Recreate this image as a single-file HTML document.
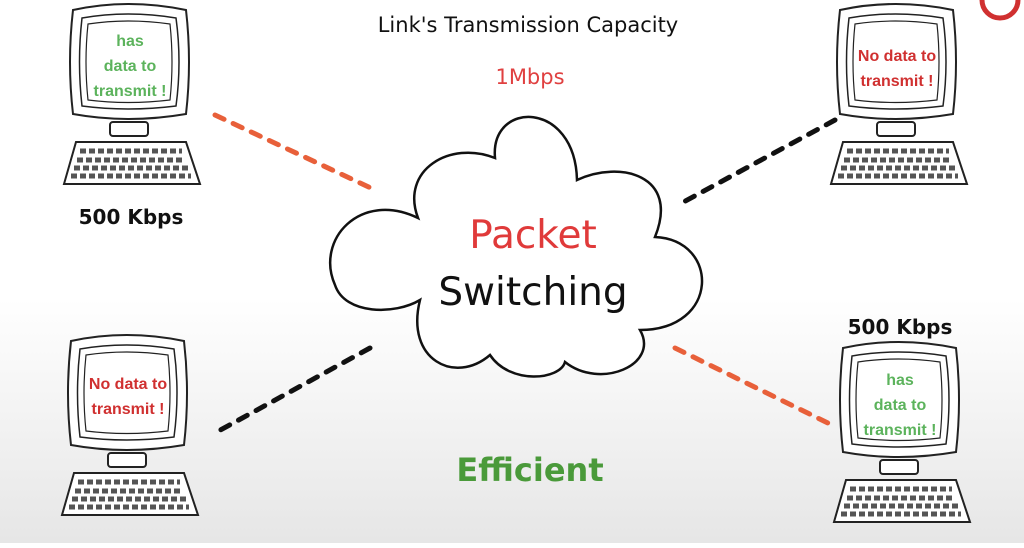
<!DOCTYPE html>
<html><head><meta charset="utf-8"><style>
body{margin:0;width:1024px;height:543px;overflow:hidden;background:linear-gradient(#fff 0%,#fff 55%,#e6e6e6 100%);font-family:"Liberation Sans",sans-serif}
</style></head><body>
<svg width="1024" height="543" viewBox="0 0 1024 543" xmlns="http://www.w3.org/2000/svg">
<defs>
<g id="pc" fill="none" stroke="#222" stroke-width="2">
<path d="M5,8 Q60,-4 118,8 Q124,60 118,112 Q60,122 5,112 Q-1,60 5,8Z" fill="#fff"/>
<path d="M14,16 Q60,8 108,16 Q114,60 108,104 Q60,110 14,104 Q9,60 14,16Z" stroke-width="1.5"/>
<path d="M20,22 Q60,16 102,22 Q106,60 102,98 Q60,103 20,98 Q16,60 20,22Z" stroke-width="1.2"/>
<rect x="42" y="120" width="38" height="14" rx="3" fill="#fff"/>
<path d="M8,140 L118,140 L132,182 L-4,182Z" fill="#fff"/>
<g stroke-width="5" stroke="#555">
<path d="M12,149h102M9,158h108M6,166h114M3,174h120" stroke-dasharray="6 3"/>
</g>
</g>
</defs>
<use href="#pc" x="68" y="2"/>
<use href="#pc" x="835" y="2"/>
<use href="#pc" x="66" y="333"/>
<use href="#pc" x="838" y="340"/>
<g font-family="Liberation Sans,sans-serif" font-weight="bold" font-size="16" text-anchor="middle">
<text x="130" y="46" fill="#5cb35c">has</text>
<text x="130" y="71" fill="#5cb35c">data to</text>
<text x="130" y="96" fill="#5cb35c">transmit !</text>
<text x="897" y="61" fill="#d03030">No data to</text>
<text x="897" y="86" fill="#d03030">transmit !</text>
<text x="128" y="389" fill="#d03030">No data to</text>
<text x="128" y="414" fill="#d03030">transmit !</text>
<text x="900" y="385" fill="#5cb35c">has</text>
<text x="900" y="410" fill="#5cb35c">data to</text>
<text x="900" y="435" fill="#5cb35c">transmit !</text>
</g>
<g stroke-width="5" stroke-linecap="round" stroke-dasharray="10 10">
<line x1="215" y1="115" x2="375" y2="190" stroke="#e8603a"/>
<line x1="835" y1="120" x2="678" y2="205" stroke="#111"/>
<line x1="370" y1="348" x2="215" y2="433" stroke="#111"/>
<line x1="675" y1="348" x2="832" y2="425" stroke="#e8603a"/>
</g>
<path d="M418,218 C360,190 315,240 335,285 C345,315 395,315 420,300 C405,360 455,385 490,355 C510,385 560,380 565,362 C600,390 660,365 640,330 C720,330 720,240 655,237 C680,175 620,160 577,180 C575,100 490,100 495,158 C450,140 400,170 418,218 Z" fill="#fff" stroke="#111" stroke-width="2.5"/>
<g font-family="DejaVu Sans,sans-serif" text-anchor="middle">
<text x="528" y="32" font-size="21" fill="#111">Link's Transmission Capacity</text>
<text x="530" y="84" font-size="21" fill="#e04040">1Mbps</text>
<text x="131" y="224" font-size="20" fill="#111" font-weight="bold">500 Kbps</text>
<text x="900" y="334" font-size="20" fill="#111" font-weight="bold">500 Kbps</text>
<text x="533" y="248" font-size="39" fill="#e03a3a">Packet</text>
<text x="533" y="305" font-size="39" fill="#111">Switching</text>
<text x="530" y="481" font-size="32" fill="#4a9a3a" font-weight="bold">Efficient</text>
</g>
<circle cx="1000" cy="0" r="18" fill="none" stroke="#d03030" stroke-width="5"/>
</svg>
</body></html>
